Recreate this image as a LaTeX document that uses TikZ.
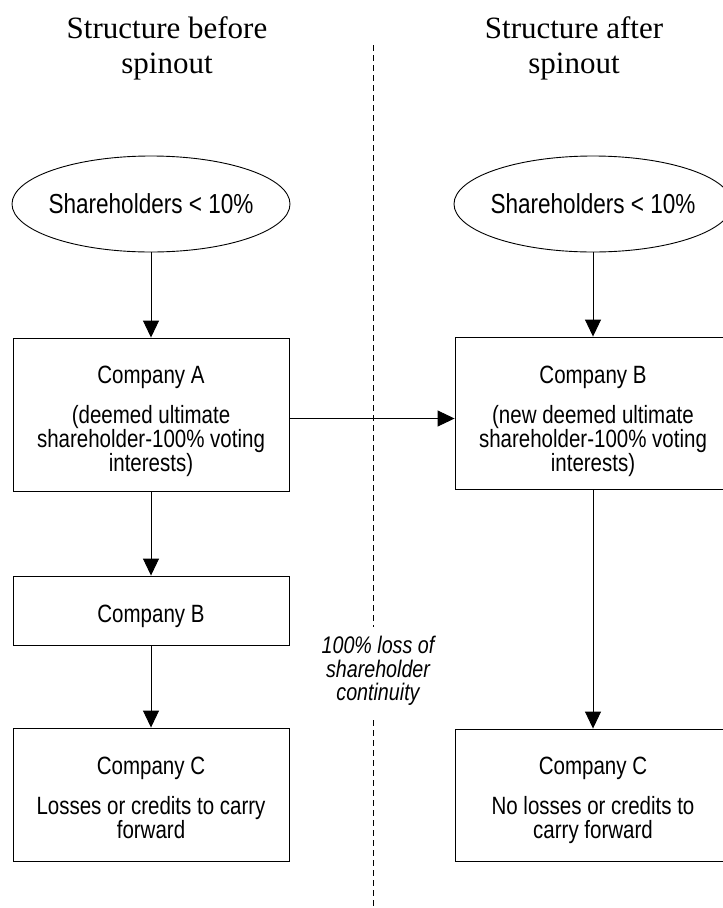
\documentclass[tikz,border=0pt]{standalone}
\usepackage{fontspec}
\setmainfont{Liberation Serif}
\setsansfont[FakeStretch=0.82]{Liberation Sans}
\usetikzlibrary{shapes.geometric,arrows.meta}
\begin{document}
\begin{tikzpicture}[x=1pt, y=-1pt,
    ttl/.style={align=center, font=\fontsize{31}{35}\selectfont},
    holders/.style={draw, ellipse, line width=0.9pt, minimum width=278pt,
      minimum height=96pt, inner xsep=-10pt, inner ysep=0pt,
      font=\sffamily\fontsize{27.5}{30}\selectfont},
    company/.style={draw, line width=0.9pt, minimum width=276pt, align=center,
      inner sep=0pt, font=\sffamily\fontsize{25}{24}\selectfont},
    note/.style={align=center, font=\sffamily\itshape\fontsize{24}{23.5}\selectfont},
    own/.style={-{Triangle[length=17pt,width=16pt]}, line width=0.9pt}]
  \clip (0,0) rectangle (723,908);
  \draw (167, 48) node[ttl] (tb) {Structure before\\spinout}
        (574, 48) node[ttl] (ta) {Structure after\\spinout};
  \draw (151, 204) node[holders] (sha) {Shareholders < 10\%}
        (593, 204) node[holders] (shb) {Shareholders < 10\%};
  \draw (151, 414.5) node[company, minimum height=153pt] (ca)
          {\rule{0pt}{32pt}Company A\\[16pt](deemed ultimate\\shareholder-100\% voting\\interests)}
        (151, 610.5) node[company, minimum height=69pt] (cb) {\rule{0pt}{30pt}Company B}
        (151, 794.5) node[company, minimum height=133pt] (cc)
          {\rule{0pt}{25pt}Company C\\[16pt]Losses or credits to carry\\forward};
  \draw (593, 413) node[company, minimum height=152pt] (nb)
          {\rule{0pt}{34pt}Company B\\[16pt](new deemed ultimate\\shareholder-100\% voting\\interests)}
        (593, 795) node[company, minimum height=132pt] (nc)
          {\rule{0pt}{28pt}Company C\\[16pt]No losses or credits to\\carry forward};
  \draw (378, 671) node[note] (loss) {100\% loss of\\shareholder\\continuity};
  \coordinate (top) at (373, 45);
  \coordinate (bot) at (373, 908);
  \draw[dash pattern=on 6pt off 4pt, line width=0.8pt] (top) -- (top |- 0,627)
        (bot |- 0,720) -- (bot);
  \draw[own] (sha) -- (ca);
  \draw[own] (ca) -- (cb);
  \draw[own] (cb) -- (cc);
  \draw[own] (shb) -- (nb);
  \draw[own] (nb) -- (nc);
  \draw[own] ([yshift=-4pt]ca.east) -- ([yshift=-4pt]ca.east -| nb.west);
\end{tikzpicture}
\end{document}
